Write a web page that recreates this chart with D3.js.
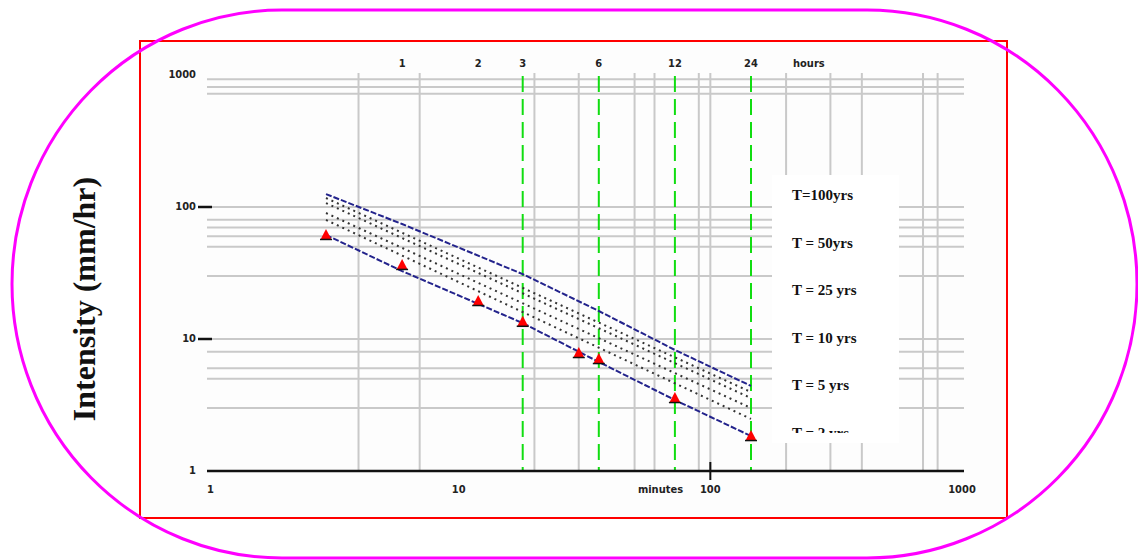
<!DOCTYPE html>
<html lang="en">
<head>
<meta charset="utf-8">
<script src="https://d3js.org/d3.v7.min.js"></script>
<title>IDF curves</title>
<style>
  body { margin: 0; background: #fff; }
  .tick-label { font-family: "DejaVu Sans Condensed", "DejaVu Sans", sans-serif; font-size: 11px; font-weight: bold; fill: #222; }
  .legend-label { font-family: "Liberation Serif", serif; font-size: 15px; font-weight: bold; fill: #111; }
</style>
</head>
<body>
<script>
// durations (hours) where the outer curves were read
var curveHours = [0.5, 1, 3, 6, 12, 24];
var t100 = [125.3, 74.3, 31.0, 16.3, 8.26, 4.41];
var t2 = [61.4, 32.7, 13.2, 6.70, 3.45, 1.84];

// inner (dotted) curves, read at the two ends
var innerHours = [0.5, 24];
var t50 = [117, 3.96];
var t25 = [107, 3.57];
var t10 = [90.1, 3.00];
var t5 = [79.8, 2.48];

// observed points (triangles)
var obsHours = [0.5, 1, 2, 3, 5, 6, 12, 24];
var obsIntensity = [61.4, 36.4, 19.4, 13.5, 7.83, 7.05, 3.57, 1.84];

// axis text
var topTicks = [1, 2, 3, 6, 12, 24];
var greenHours = [3, 6, 12, 24];
var bottomTicks = [1, 10, 100, 1000];
var leftTicks = [1000, 100, 10, 1];
var vGrid = [4, 7, 20, 30, 50, 60, 90, 100, 200, 300, 400, 700, 800];
var hGrid = [930, 810, 720, 100, 80, 70, 60, 50, 30, 10, 8, 6, 5, 3];
var legendText = ["T=100yrs", "T = 50yrs", "T = 25 yrs", "T = 10 yrs", "T = 5 yrs", "T = 2 yrs"];

var width = 1138, height = 560;

var xMin = d3.scaleLog().domain([1, 1000]).range([207, 962]);
var xHr = d3.scaleLog().domain([0.5, 24]).range([326, 751]);
var y = d3.scaleLog().domain([1, 1000]).range([471, 75]);

var svg = d3.select("body").append("svg")
  .attr("width", width)
  .attr("height", height);

// frame
svg.append("rect")
  .attr("x", 140).attr("y", 41)
  .attr("width", 867).attr("height", 477)
  .attr("fill", "#fdfdfd")
  .attr("stroke", "#ff0000")
  .attr("stroke-width", 2);

// grid
svg.append("g").selectAll("line")
  .data(hGrid)
  .enter().append("line")
  .attr("x1", 207).attr("x2", 964)
  .attr("y1", function(d) { return y(d); })
  .attr("y2", function(d) { return y(d); })
  .attr("stroke", "#c9c9c9")
  .attr("stroke-width", 2);

svg.append("g").selectAll("line")
  .data(vGrid)
  .enter().append("line")
  .attr("x1", function(d) { return xMin(d); })
  .attr("x2", function(d) { return xMin(d); })
  .attr("y1", 73).attr("y2", y(1))
  .attr("stroke", "#c9c9c9")
  .attr("stroke-width", 2);

// green duration markers
svg.append("g").selectAll("line")
  .data(greenHours)
  .enter().append("line")
  .attr("x1", function(d) { return xHr(d); })
  .attr("x2", function(d) { return xHr(d); })
  .attr("y1", 76).attr("y2", y(1))
  .attr("stroke", "#11dd11")
  .attr("stroke-width", 2)
  .attr("stroke-dasharray", "16,7");

// axes
svg.append("line")
  .attr("x1", 207).attr("x2", 964)
  .attr("y1", y(1)).attr("y2", y(1))
  .attr("stroke", "#111").attr("stroke-width", 2.5);

svg.append("line")
  .attr("x1", xMin(100)).attr("x2", xMin(100))
  .attr("y1", y(1) - 9).attr("y2", y(1) + 9)
  .attr("stroke", "#111").attr("stroke-width", 2);

svg.append("g").selectAll("line")
  .data([100, 10])
  .enter().append("line")
  .attr("x1", 198).attr("x2", 212)
  .attr("y1", function(d) { return y(d); })
  .attr("y2", function(d) { return y(d); })
  .attr("stroke", "#111").attr("stroke-width", 2.5);

svg.append("g").selectAll("text")
  .data(leftTicks)
  .enter().append("text")
  .attr("class", "tick-label")
  .attr("x", 196)
  .attr("y", function(d) { return y(d) + 3; })
  .attr("text-anchor", "end")
  .text(function(d) { return d; });

svg.append("g").selectAll("text")
  .data(bottomTicks)
  .enter().append("text")
  .attr("class", "tick-label")
  .attr("x", function(d) { return xMin(d); })
  .attr("y", 493)
  .attr("text-anchor", function(d, i) { return i == 0 ? "start" : "middle"; })
  .text(function(d) { return d; });

svg.append("text")
  .attr("class", "tick-label")
  .attr("x", xMin(60) + 6).attr("y", 493)
  .attr("text-anchor", "middle")
  .text("minutes");

svg.append("g").selectAll("text")
  .data(topTicks)
  .enter().append("text")
  .attr("class", "tick-label")
  .attr("x", function(d) { return xHr(d); })
  .attr("y", 67)
  .attr("text-anchor", "middle")
  .text(function(d) { return d; });

svg.append("text")
  .attr("class", "tick-label")
  .attr("x", xHr(24) + 42).attr("y", 67)
  .text("hours");

// curves
var line = d3.line()
  .x(function(d) { return xHr(d[0]); })
  .y(function(d) { return y(d[1]); });

[t50, t25, t10, t5].forEach(function(vals) {
  svg.append("path")
    .datum(d3.zip(innerHours, vals))
    .attr("d", line)
    .attr("fill", "none")
    .attr("stroke", "#333")
    .attr("stroke-width", 2)
    .attr("stroke-dasharray", "2,4");
});

[t100, t2].forEach(function(vals) {
  svg.append("path")
    .datum(d3.zip(curveHours, vals))
    .attr("d", line)
    .attr("fill", "none")
    .attr("stroke", "#23238c")
    .attr("stroke-width", 2)
    .attr("stroke-dasharray", "6,2");
});

// observed triangles
var pts = svg.append("g").selectAll("g")
  .data(d3.zip(obsHours, obsIntensity))
  .enter().append("g")
  .attr("transform", function(d) { return "translate(" + xHr(d[0]) + "," + y(d[1]) + ")"; });

pts.append("path")
  .attr("d", "M0,-6L5.5,4.5L-5.5,4.5Z")
  .attr("fill", "#ff0000");

pts.append("line")
  .attr("x1", -6).attr("x2", 6)
  .attr("y1", 4.5).attr("y2", 4.5)
  .attr("stroke", "#111").attr("stroke-width", 1.5);

// legend
svg.append("rect")
  .attr("x", 772).attr("y", 175)
  .attr("width", 127).attr("height", 268)
  .attr("fill", "#fff");

svg.append("clipPath").attr("id", "legclip")
  .append("rect")
  .attr("x", 772).attr("y", 175)
  .attr("width", 127).attr("height", 258);

svg.append("g")
  .attr("clip-path", "url(#legclip)")
  .selectAll("text")
  .data(legendText)
  .enter().append("text")
  .attr("class", "legend-label")
  .attr("x", 792)
  .attr("y", function(d, i) { return 200 + i * 47.5; })
  .text(function(d) { return d; });

// y title
svg.append("text")
  .attr("transform", "translate(95,299) rotate(-90)")
  .attr("text-anchor", "middle")
  .style("font-family", "'Liberation Serif', serif")
  .style("font-size", "32px")
  .style("font-weight", "bold")
  .attr("fill", "#111")
  .text("Intensity (mm/hr)");

// outer rounded outline
svg.append("rect")
  .attr("x", 12).attr("y", 10)
  .attr("width", 1125).attr("height", 548)
  .attr("rx", 270).attr("ry", 274)
  .attr("fill", "none")
  .attr("stroke", "#ff00ff")
  .attr("stroke-width", 3);
</script>
</body>
</html>
